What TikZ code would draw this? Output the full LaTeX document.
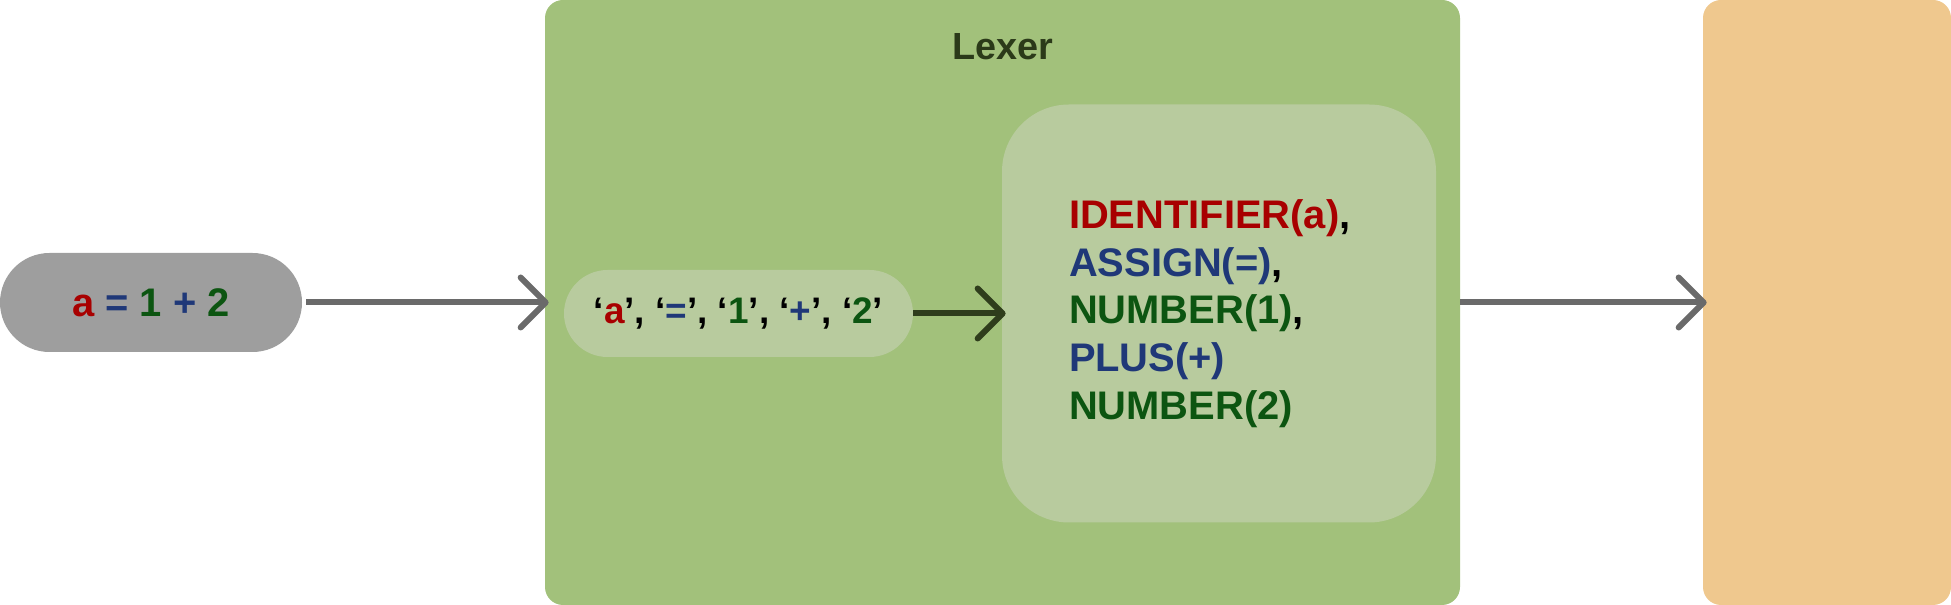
\documentclass[tikz,border=0pt]{standalone}
\usepackage{fontspec}
\setmainfont{Liberation Sans}
\usetikzlibrary{shapes.geometric, arrows.meta}

\definecolor{pillgray}{HTML}{9E9E9E}
\definecolor{lexgreen}{HTML}{A2C17B}
\definecolor{lightgreen}{HTML}{B8CB9E}
\definecolor{parseorange}{HTML}{EFC88E}
\definecolor{arrowgray}{HTML}{6A6A6A}
\definecolor{arrowdark}{HTML}{2F3D1C}
\definecolor{titledark}{HTML}{2B3A19}
\definecolor{tokred}{HTML}{A80000}
\definecolor{tokblue}{HTML}{1F3878}
\definecolor{tokgreen}{HTML}{0C5511}

\tikzstyle{source} = [rectangle, rounded corners=0.99cm, minimum width=6.04cm, minimum height=1.98cm, text centered, fill=pillgray, font=\bfseries\fontsize{22.7pt}{27.2pt}\selectfont]
\tikzstyle{stage} = [rectangle, rounded corners=0.36cm, minimum width=18.3cm, minimum height=12.1cm, fill=lexgreen]
\tikzstyle{parser} = [rectangle, rounded corners=0.36cm, minimum width=4.96cm, minimum height=12.1cm, fill=parseorange]
\tikzstyle{chars} = [rectangle, rounded corners=0.87cm, minimum width=6.98cm, minimum height=1.74cm, text centered, fill=lightgreen, font=\bfseries\fontsize{21pt}{25pt}\selectfont]
\tikzstyle{tokens} = [rectangle, rounded corners=1.34cm, minimum height=8.36cm, inner xsep=1.34cm, text width=6cm, align=left, fill=lightgreen, font=\bfseries\fontsize{22.7pt}{27.2pt}\selectfont]
\tikzstyle{title} = [text=titledark, font=\bfseries\fontsize{21.5pt}{26pt}\selectfont]
\tikzstyle{arrow} = [line width=0.12cm, draw=arrowgray, ->, >={Straight Barb[length=0.5cm, width=1cm, round]}, shorten >=-0.08cm]

\begin{document}
\begin{tikzpicture}[node distance=1.8cm]
	\useasboundingbox (0,0) rectangle (39.02,12.10);

	\node (n0) [source] at (3.02,6.05) {{\color{tokred}a} {\color{tokblue}=} {\color{tokgreen}1} {\color{tokblue}+} {\color{tokgreen}2}};
	\node (n1) [stage, right of=n0, xshift=15.23cm] {};
	\node (n2) [parser, right of=n1, xshift=14.69cm] {};
	\node (n3) [chars, right of=n0, xshift=9.95cm, yshift=-0.22cm] {‘{\color{tokred}a}’, ‘{\color{tokblue}=}’, ‘{\color{tokgreen}1}’, ‘{\color{tokblue}+}’, ‘{\color{tokgreen}2}’};
	\node (n4) [tokens, right of=n3, xshift=7.81cm] {{\color{tokred}IDENTIFIER(a)},\\
		{\color{tokblue}ASSIGN(=)},\\
		{\color{tokgreen}NUMBER(1)},\\
		{\color{tokblue}PLUS(+)}\\
		{\color{tokgreen}NUMBER(2)}};
	\node (n5) [title] at ([yshift=-0.94cm]n1.north) {Lexer};

	\draw [arrow, shorten <=0.08cm] (n0) -- (n1);
	\draw [arrow, draw=arrowdark] (n3) -- (n4);
	\draw [arrow] (n1) -- (n2);
\end{tikzpicture}
\end{document}
